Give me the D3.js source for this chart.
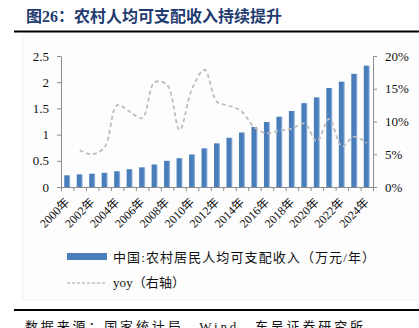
<!DOCTYPE html>
<html><head><meta charset="utf-8">
<script src="https://cdn.jsdelivr.net/npm/d3@7"></script>
<style>
html,body{margin:0;padding:0;background:#fff;}
svg{display:block;}
text{font-family:"Liberation Serif","Noto Sans CJK SC",serif;}
</style></head>
<body>
<svg id="c" width="419" height="328"></svg>
<script>
const years = ["2000","2001","2002","2003","2004","2005","2006","2007","2008","2009","2010","2011","2012","2013","2014","2015","2016","2017","2018","2019","2020","2021","2022","2023","2024"];
const income = [0.223,0.242,0.254,0.27,0.30,0.34,0.375,0.43,0.50,0.55,0.62,0.738,0.833,0.94,1.04,1.145,1.24,1.342,1.45,1.60,1.71,1.89,2.01,2.16,2.315];
const yoyYears = ["2001","2002","2003","2004","2005","2006","2007","2008","2009","2010","2011","2012","2013","2014","2015","2016","2017","2018","2019","2020","2021","2022","2023","2024"];
const yoy = [5.6,5.0,6.1,12.5,11.5,10.5,16.0,15.6,8.7,15.0,17.9,13.0,12.4,11.5,9.1,8.2,8.6,8.9,9.7,7.0,10.4,6.2,7.7,6.7];
const leftTicks = [0,0.5,1,1.5,2,2.5];
const rightTicks = [0,5,10,15,20];
const labelYears = ["2000","2002","2004","2006","2008","2010","2012","2014","2016","2018","2020","2022","2024"];
const title = "图26：农村人均可支配收入持续提升";
const legend1 = "中国:农村居民人均可支配收入（万元/年）";
const legend2 = "yoy（右轴）";
const source = "数据来源：国家统计局，Wind，东吴证券研究所";

const svg = d3.select("#c");
const L = 61, R = 373, T = 56, B = 187;
const axisColor = "#8c8c8c";
const barColor = "#4a7ebb";

// faint panel
svg.append("rect").attr("x",23).attr("y",37).attr("width",400).attr("height",263)
  .attr("fill","#fdfdfd").attr("stroke","#f1f1f1");

// title
svg.append("text").attr("x",26).attr("y",21.5).attr("font-size",16).attr("font-weight","bold")
  .attr("fill","#1f3b70").attr("textLength",256).attr("lengthAdjust","spacing").text(title);
svg.append("line").attr("x1",14).attr("x2",419).attr("y1",31.5).attr("y2",31.5)
  .attr("stroke","#000").attr("stroke-width",2);

const x = d3.scaleBand().domain(years).range([L,R]).padding(0);
const yL = d3.scaleLinear().domain([0,2.5]).range([B,T]);
const yR = d3.scaleLinear().domain([0,20]).range([B,T]);
const bw = x.bandwidth()*0.48;

// gradient for bars
const defs = svg.append("defs");
const g = defs.append("linearGradient").attr("id","bg").attr("x1","0").attr("x2","1").attr("y1","0").attr("y2","0");
g.append("stop").attr("offset","0%").attr("stop-color",barColor);
g.append("stop").attr("offset","70%").attr("stop-color",barColor);
g.append("stop").attr("offset","100%").attr("stop-color","#a9c4e6");

svg.append("g").selectAll("rect").data(years).join("rect")
  .attr("x",(d)=>x(d)+x.bandwidth()/2-bw/2)
  .attr("width",bw)
  .attr("y",(d,i)=>yL(income[i]))
  .attr("height",(d,i)=>B-yL(income[i]))
  .attr("fill","url(#bg)");

// yoy line
const line = d3.line().x((d,i)=>x(yoyYears[i])+x.bandwidth()/2).y(d=>yR(d))
  .curve(d3.curveCatmullRom.alpha(0.5));
svg.append("path").datum(yoy).attr("d",line).attr("fill","none")
  .attr("stroke","#bdbdbd").attr("stroke-width",1.8).attr("stroke-dasharray","4,3");

// axes
function styleAxis(sel){
  sel.selectAll("path,line").attr("stroke",axisColor);
  sel.selectAll("text").attr("font-size",13).attr("fill","#111")
    .attr("font-family","'Liberation Serif',serif");
}
svg.append("g").attr("transform",`translate(${L},0)`)
  .call(d3.axisLeft(yL).tickValues(leftTicks).tickSize(4).tickSizeOuter(0).tickPadding(8).tickFormat(d=>String(d)))
  .call(styleAxis);
svg.append("g").attr("transform",`translate(${R},0)`)
  .call(d3.axisRight(yR).tickValues(rightTicks).tickSize(4).tickSizeOuter(0).tickPadding(8).tickFormat(d=>d+"%"))
  .call(styleAxis);
const xb = d3.scaleLinear().domain([0,years.length]).range([L,R]);
svg.append("g").attr("transform",`translate(0,${B})`)
  .call(d3.axisBottom(xb).tickValues(d3.range(years.length+1)).tickSize(4).tickSizeOuter(0).tickFormat(""))
  .call(styleAxis);

// x labels
svg.append("g").selectAll("text").data(labelYears).join("text")
  .attr("transform",d=>`translate(${x(d)+x.bandwidth()/2+3},${B+16}) rotate(-45)`)
  .attr("text-anchor","end").attr("font-size",12).attr("fill","#111")
  .text(d=>d+"年");

// legend
svg.append("rect").attr("x",67).attr("y",253).attr("width",40).attr("height",7).attr("fill",barColor);
svg.append("text").attr("x",113).attr("y",262).attr("font-size",13).attr("fill","#111")
  .attr("textLength",262).attr("lengthAdjust","spacing").text(legend1);
svg.append("line").attr("x1",67).attr("x2",107).attr("y1",283).attr("y2",283)
  .attr("stroke","#bdbdbd").attr("stroke-width",1.5).attr("stroke-dasharray","3,2");
svg.append("text").attr("x",113).attr("y",287).attr("font-size",13).attr("fill","#111")
  .attr("textLength",72).attr("lengthAdjust","spacing").text(legend2);

// bottom rule and source
svg.append("line").attr("x1",14).attr("x2",419).attr("y1",310).attr("y2",310)
  .attr("stroke","#000").attr("stroke-width",2);
svg.append("text").attr("x",25).attr("y",331).attr("font-size",13).attr("fill","#111")
  .attr("textLength",338).attr("lengthAdjust","spacing").text(source);
</script>
</body></html>
